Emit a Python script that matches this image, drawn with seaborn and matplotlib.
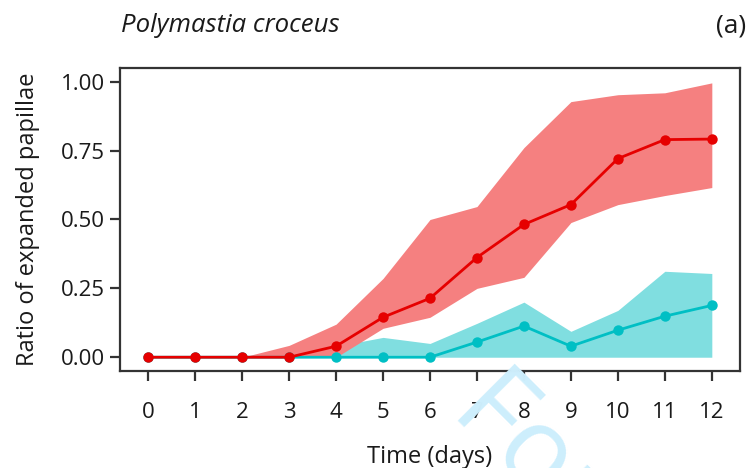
import matplotlib
matplotlib.use("Agg")
import matplotlib.pyplot as plt
import seaborn as sns
import pandas as pd

days = [0, 1, 2, 3, 4, 5, 6, 7, 8, 9, 10, 11, 12]
red_mean = [0, 0, 0, 0, 0.04, 0.145, 0.214, 0.362, 0.482, 0.554, 0.721, 0.790, 0.792]
red_low = [0, 0, 0, 0, 0.0, 0.105, 0.145, 0.250, 0.290, 0.489, 0.554, 0.587, 0.616]
red_high = [0, 0, 0, 0.043, 0.120, 0.286, 0.500, 0.547, 0.761, 0.928, 0.953, 0.960, 0.996]
cyan_mean = [0, 0, 0, 0, 0, 0, 0, 0.055, 0.113, 0.040, 0.098, 0.149, 0.188]
cyan_low = [0, 0, 0, 0, 0, 0, 0, 0, 0, 0, 0, 0, 0]
cyan_high = [0, 0, 0, 0, 0.040, 0.072, 0.050, 0.123, 0.200, 0.094, 0.170, 0.312, 0.304]
x_ticks = [0, 1, 2, 3, 4, 5, 6, 7, 8, 9, 10, 11, 12]
y_ticks = [0.0, 0.25, 0.5, 0.75, 1.0]
y_tick_labels = ["0.00", "0.25", "0.50", "0.75", "1.00"]

RED_LINE = "#E60000"
RED_FILL = "#F58080"
CYAN_LINE = "#00BFC4"
CYAN_FILL = "#80DEE0"
TXT = "#1a1a1a"

sns.set_style("white")
plt.rcParams["font.family"] = ["Open Sans", "DejaVu Sans"]

fig = plt.figure(figsize=(7.48, 4.68), dpi=100)
ax = fig.add_axes([120 / 748, 1 - 371 / 468, 620 / 748, 303 / 468])

df = pd.DataFrame({
    "day": days * 2,
    "value": cyan_mean + red_mean,
    "group": ["cyan"] * len(days) + ["red"] * len(days),
})

ax.fill_between(days, cyan_low, cyan_high, color=CYAN_FILL, lw=0, zorder=1)
ax.fill_between(days, red_low, red_high, color=RED_FILL, lw=0, zorder=1.1)
sns.lineplot(data=df, x="day", y="value", hue="group",
             palette={"cyan": CYAN_LINE, "red": RED_LINE},
             marker="o", markersize=7.5, markeredgewidth=0, linewidth=2,
             legend=False, ax=ax, zorder=3)

ax.set_xlim(-0.6, 12.6)
ax.set_ylim(-0.05, 1.05)
ax.set_xticks(x_ticks)
ax.set_xticklabels([str(d) for d in x_ticks])
ax.set_yticks(y_ticks)
ax.set_yticklabels(y_tick_labels)

for s in ax.spines.values():
    s.set_visible(True)
    s.set_color("#333333")
    s.set_linewidth(1.6)

ax.tick_params(axis="both", which="major", direction="out", length=7, width=1.6,
               color="#333333", labelsize=16, labelcolor=TXT,
               bottom=True, left=True)
ax.tick_params(axis="x", pad=15)
ax.tick_params(axis="y", pad=4)

ax.set_xlabel("Time (days)", fontsize=17, color=TXT, labelpad=16)
ax.set_ylabel("Ratio of expanded papillae", fontsize=17, color=TXT, labelpad=15)

fig.text(121 / 748, 1 - 26 / 468, "Polymastia croceus", fontsize=18.5,
         style="italic", ha="left", va="center", color=TXT)
fig.text(746 / 748, 1 - 26 / 468, "(a)", fontsize=19, ha="right", va="center",
         color=TXT)

# faint watermark
fig.text(450 / 748, 1 - 412 / 468, "For Review", fontsize=80, color="#CDEEFC",
         rotation=-45, ha="left", va="baseline", rotation_mode="anchor", zorder=0)

fig.savefig("out.png", dpi=100)
